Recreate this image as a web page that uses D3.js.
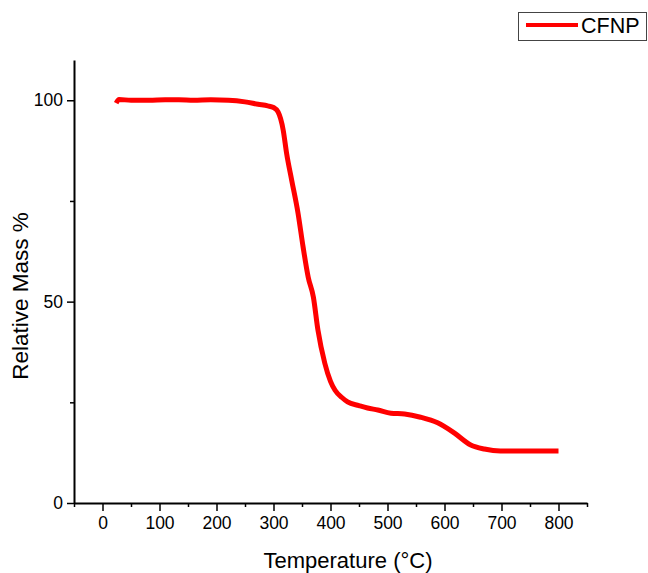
<!DOCTYPE html>
<html>
<head>
<meta charset="utf-8">
<script src="https://cdn.jsdelivr.net/npm/d3@7"></script>
<style>
  body { margin: 0; background: #fff; }
  text { font-family: "Liberation Sans", Arial, sans-serif; fill: #000; }
</style>
</head>
<body>
<div id="chart"></div>
<script>
// TGA curve
var seriesName = "CFNP";
var temps = [24, 29, 50, 82, 110, 134, 160, 190, 221, 250, 273, 290, 300, 308, 317, 323, 332, 343, 352, 361, 370, 378, 390, 400, 408, 420, 430, 450, 465, 483, 506, 530, 558, 588, 617, 646, 670, 698, 745, 800];
var mass = [99.3, 100.2, 100.0, 100.0, 100.1, 100.1, 100.0, 100.1, 100.0, 99.6, 99.0, 98.6, 98.2, 97.1, 92.6, 86.8, 80.1, 72.0, 63.5, 56.0, 51.1, 42.9, 34.7, 30.2, 28.0, 26.2, 25.1, 24.2, 23.6, 23.1, 22.3, 22.1, 21.3, 19.9, 17.4, 14.4, 13.4, 12.9, 12.9, 12.9];
var xTicks = [0, 100, 200, 300, 400, 500, 600, 700, 800];
var xMinor = [-50, 50, 150, 250, 350, 450, 550, 650, 750, 850];
var yTicks = [0, 50, 100];
var yMinor = [25, 75];

var data = temps.map(function (t, i) {
    return { t: t, m: mass[i] };
});

var width = 648, height = 573;
var margin = { top: 60, right: 61, bottom: 70, left: 74 },
    w = width - margin.left - margin.right,
    h = height - margin.top - margin.bottom;

var svg = d3.select("#chart").append("svg")
    .attr("width", width)
    .attr("height", height);

var g = svg.append("g")
    .attr("transform", "translate(" + margin.left + "," + margin.top + ")");

var x = d3.scaleLinear().domain([-50, 850]).range([0, w]);
var y = d3.scaleLinear().domain([0, 110]).range([h, 0]);

// minor ticks first, then major axes on top
g.append("g")
    .attr("transform", "translate(0," + h + ")")
    .call(d3.axisBottom(x).tickValues(xMinor).tickSize(4).tickFormat(""))
    .call(function (s) { s.select(".domain").remove(); })
    .selectAll("line").attr("stroke-width", 1.5);

g.append("g")
    .call(d3.axisLeft(y).tickValues(yMinor).tickSize(4).tickFormat(""))
    .call(function (s) { s.select(".domain").remove(); })
    .selectAll("line").attr("stroke-width", 1.5);

var xAxis = g.append("g")
    .attr("transform", "translate(0," + h + ")")
    .call(d3.axisBottom(x).tickValues(xTicks).tickSize(8).tickSizeOuter(0).tickPadding(6));
xAxis.selectAll("text").style("font-size", "17.5px");

var yAxis = g.append("g")
    .call(d3.axisLeft(y).tickValues(yTicks).tickSize(7).tickSizeOuter(0).tickPadding(4));
yAxis.selectAll("text").style("font-size", "17.5px");

svg.selectAll(".domain").attr("stroke-width", 2);
xAxis.selectAll(".tick line").attr("stroke-width", 1.5);
yAxis.selectAll(".tick line").attr("stroke-width", 1.5);

// the curve
var line = d3.line()
    .x(function (d) { return x(d.t); })
    .y(function (d) { return y(d.m); })
    .curve(d3.curveMonotoneX);

g.append("path")
    .datum(data)
    .attr("fill", "none")
    .attr("stroke", "#ff0000")
    .attr("stroke-width", 5)
    .attr("stroke-linejoin", "round")
    .attr("d", line);

// axis titles
svg.append("text")
    .attr("x", 348)
    .attr("y", 568)
    .style("text-anchor", "middle")
    .style("font-size", "22px")
    .text("Temperature (\u00B0C)");

svg.append("text")
    .attr("transform", "rotate(-90)")
    .attr("x", -296)
    .attr("y", 28)
    .style("text-anchor", "middle")
    .style("font-size", "22.5px")
    .text("Relative Mass %");

// legend
var legend = svg.append("g");
legend.append("rect")
    .attr("x", 518.5)
    .attr("y", 12.5)
    .attr("width", 128)
    .attr("height", 28)
    .attr("fill", "#fff")
    .attr("stroke", "#444")
    .attr("stroke-width", 1);
legend.append("line")
    .attr("x1", 526)
    .attr("x2", 578)
    .attr("y1", 25)
    .attr("y2", 25)
    .attr("stroke", "#ff0000")
    .attr("stroke-width", 4);
legend.append("text")
    .attr("x", 581)
    .attr("y", 33)
    .style("font-size", "21.5px")
    .text(seriesName);
</script>
</body>
</html>
